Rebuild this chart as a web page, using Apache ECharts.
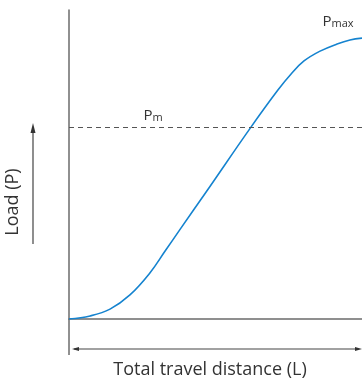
<!DOCTYPE html>
<html>
<head>
<meta charset="utf-8">
<script src="https://cdn.jsdelivr.net/npm/echarts@6/dist/echarts.min.js"></script>
<style>
  html, body { margin: 0; padding: 0; background: #fff; }
  #chart { width: 362px; height: 384px; }
</style>
</head>
<body>
<div id="chart"></div>
<script>
// load curve, travel distance vs load (both 0..100)
const travel = [0, 7.2, 14.0, 20.8, 27.6, 32.8, 38.2, 46.8, 62.1, 71.3, 75.8, 80.2, 85.7, 91.5, 95.9, 100];
const load = [0, 1.0, 3.2, 7.8, 14.9, 22.0, 29.4, 41.1, 62.1, 74.1, 79.3, 83.5, 86.7, 89.0, 90.3, 90.9];
const pm = 62.1;
const pmLabelX = 28.7;
const pmaxLabelX = 91.8;
const pmax = 90.9;

const FONT = 'Open Sans';
const GRAY = '#6b6b6b';

const chart = echarts.init(document.getElementById('chart'));

const rich = {
  p: { fontFamily: FONT, fontSize: 15, color: '#333' },
  s: { fontFamily: FONT, fontSize: 11, color: '#333', verticalAlign: 'bottom' }
};

chart.setOption({
  animation: false,
  grid: { left: 69, right: 0, top: 10, bottom: 65 },
  xAxis: {
    type: 'value', min: 0, max: 100,
    axisLine: { lineStyle: { color: GRAY, width: 1.5 } },
    axisTick: { show: false }, axisLabel: { show: false }, splitLine: { show: false }
  },
  yAxis: {
    type: 'value', min: 0, max: 100,
    axisLine: { show: true, lineStyle: { color: GRAY, width: 1.5 } },
    axisTick: { show: false }, axisLabel: { show: false }, splitLine: { show: false }
  },
  series: [{
    type: 'line',
    data: travel.map((x, i) => [x, load[i]]),
    smooth: 0.4,
    showSymbol: false,
    lineStyle: { color: '#1583cf', width: 1.6 },
    markLine: {
      silent: true, symbol: 'none',
      label: { show: false },
      lineStyle: { color: '#555', type: [5, 4], width: 1 },
      data: [{ yAxis: pm }]
    },
    markPoint: {
      symbol: 'circle', symbolSize: 0,
      data: [
        { coord: [pmLabelX, pm], label: { show: true, position: 'top', distance: 4, formatter: '{p|P}{s|m}', rich } },
        { coord: [pmaxLabelX, pmax], label: { show: true, position: 'top', distance: 9, formatter: '{p|P}{s|max}', rich } }
      ]
    }
  }],
  graphic: [
    // y axis continues below the x axis
    { type: 'line', shape: { x1: 69, y1: 319, x2: 69, y2: 355 }, style: { stroke: '#222', lineWidth: 1 } },
    // horizontal double arrow
    { type: 'line', shape: { x1: 74, y1: 349, x2: 356, y2: 349 }, style: { stroke: '#444', lineWidth: 1.2 } },
    { type: 'polygon', shape: { points: [[72, 349], [79, 347], [79, 351]] }, style: { fill: '#333' } },
    { type: 'polygon', shape: { points: [[362, 349], [355, 347], [355, 351]] }, style: { fill: '#333' } },
    // vertical arrow
    { type: 'line', shape: { x1: 33, y1: 244, x2: 33, y2: 130 }, style: { stroke: '#444', lineWidth: 1.2 } },
    { type: 'polygon', shape: { points: [[33, 123], [30.5, 133], [35.5, 133]] }, style: { fill: '#333' } },
    {
      type: 'text', x: 210, y: 370,
      style: { text: 'Total travel distance (L)', fontFamily: FONT, fontSize: 18, fill: '#333', align: 'center', verticalAlign: 'middle' }
    },
    {
      type: 'text', x: 13, y: 202, rotation: Math.PI / 2,
      style: { text: 'Load (P)', fontFamily: FONT, fontSize: 18, fill: '#333', align: 'center', verticalAlign: 'middle' }
    }
  ]
});
</script>
</body>
</html>
